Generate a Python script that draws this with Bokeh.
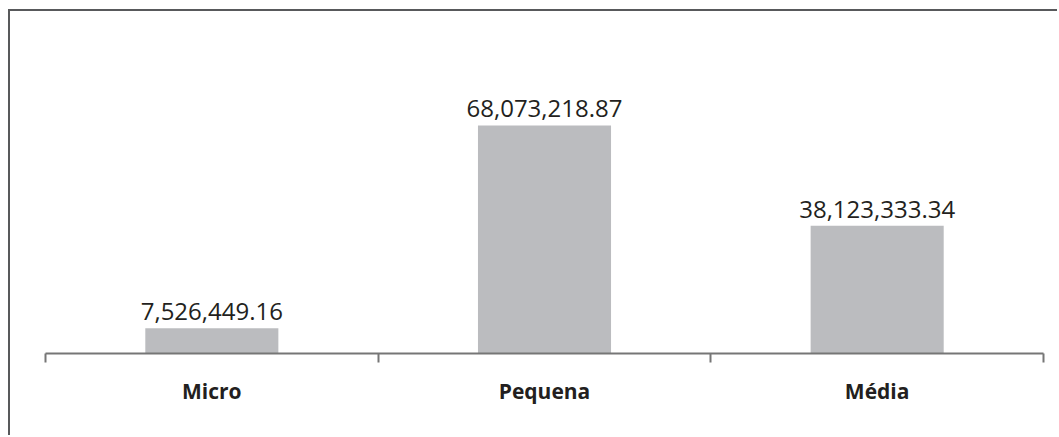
from bokeh.plotting import figure
from bokeh.models import ColumnDataSource, FixedTicker, Range1d, LabelSet
from bokeh.core.properties import value
from bokeh.embed import file_html
from bokeh.resources import INLINE

# Company size categories and their totals
categories = ["Micro", "Pequena", "Média"]
totals = [7526449.16, 68073218.87, 38123333.34]
total_labels = ["7,526,449.16", "68,073,218.87", "38,123,333.34"]

centers = [i + 0.5 for i in range(len(categories))]
edges = list(range(len(categories) + 1))

source = ColumnDataSource(data=dict(x=centers, top=totals, label=total_labels))

p = figure(
    width=1049, height=426,
    x_range=Range1d(0, len(categories)),
    y_range=Range1d(0, 99.1e6),
    output_backend="svg", toolbar_location=None,
    min_border_left=35, min_border_right=16,
    min_border_top=10, min_border_bottom=84,
)
p.styles = {
    "margin-left": "8px", "margin-top": "9px",
    "border-left": "2px solid #58595b", "border-top": "2px solid #58595b",
}
p.outline_line_color = None
p.xgrid.grid_line_color = None
p.ygrid.grid_line_color = None
p.yaxis.visible = False

p.vbar(x="x", top="top", width=0.4, source=source,
       fill_color="#bbbcbf", line_color=None)

labels = LabelSet(x="x", y="top", text="label", source=source,
                  text_align="center", text_baseline="alphabetic",
                  y_offset=8, text_font=value("Open Sans"),
                  text_font_size="24px", text_color="#231f20")
p.add_layout(labels)

ax = p.xaxis[0]
ax.ticker = FixedTicker(ticks=centers, minor_ticks=edges)
ax.major_label_overrides = {c: name for c, name in zip(centers, categories)}
ax.axis_line_color = "#767676"
ax.axis_line_width = 2
ax.major_tick_line_color = None
ax.major_tick_out = 0
ax.major_tick_in = 0
ax.minor_tick_line_color = "#767676"
ax.minor_tick_line_width = 2
ax.minor_tick_out = 9
ax.minor_tick_in = 0
ax.major_label_standoff = 14
ax.major_label_text_font = "Open Sans"
ax.major_label_text_font_style = "bold"
ax.major_label_text_font_size = "21px"
ax.major_label_text_color = "#231f20"

open("out.html", "w").write(file_html(p, INLINE))
